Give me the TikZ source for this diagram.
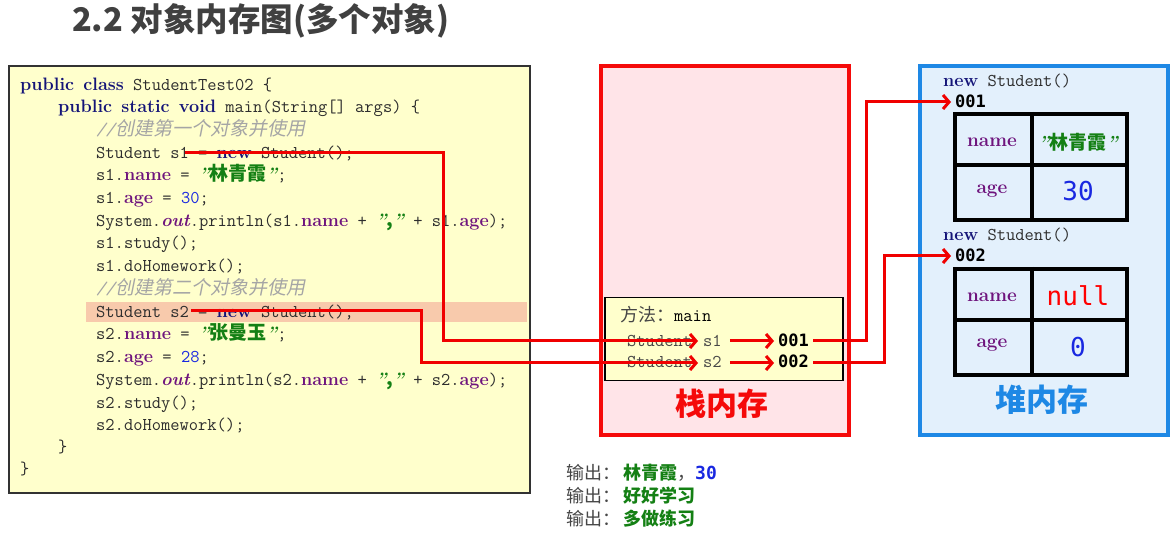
\documentclass[tikz,border=0pt]{standalone}
\usepackage{fontspec}
\usetikzlibrary{arrows.meta}
\newfontfamily\cjk{Noto Sans CJK SC}
\newfontfamily\cjkit[FakeSlant=0.2]{Noto Sans CJK SC}
\newfontfamily\dmono{DejaVu Sans Mono}
\definecolor{codebg}{RGB}{255,255,204}
\definecolor{boxgray}{RGB}{50,50,50}
\definecolor{hl}{RGB}{248,202,172}
\definecolor{kwc}{RGB}{20,20,120}
\definecolor{fdc}{RGB}{110,20,125}
\definecolor{strc}{RGB}{20,128,20}
\definecolor{numc}{RGB}{25,40,225}
\definecolor{cmtc}{RGB}{165,165,165}
\definecolor{codetxt}{RGB}{45,45,45}
\definecolor{arrowred}{RGB}{240,0,0}
\definecolor{stackbg}{RGB}{255,228,232}
\definecolor{stackred}{RGB}{245,10,10}
\definecolor{heapbg}{RGB}{227,240,252}
\definecolor{heapblue}{RGB}{30,136,229}
\definecolor{titlegray}{RGB}{64,64,64}
\definecolor{outgray}{RGB}{70,70,70}
\newcommand\kw[1]{{\color{kwc}\rmfamily\bfseries #1}}
\newcommand\fd[1]{{\color{fdc}\rmfamily\bfseries #1}}
\newcommand\outk[1]{{\color{fdc}\rmfamily\bfseries\itshape #1}}
\newcommand\jnum[1]{{\color{numc}#1}}
\newcommand\qm{{\rmfamily\bfseries\itshape"}}
\newcommand\jstr[1]{{\color{strc}\qm{\cjk\bfseries\fontsize{19}{20}\selectfont #1}\qm}}
\newcommand\cmt[1]{{\color{cmtc}{\itshape //}{\cjkit\fontsize{19}{20}\selectfont #1}}}
\tikzset{
  codetext/.style={anchor=base west, inner sep=0pt, text=codetxt, font=\fontsize{18}{20}\selectfont\ttfamily},
  redarrow/.style={draw=arrowred, line width=3pt, -{Straight Barb[length=6pt,width=14pt]}},
  celltext/.style={anchor=center, inner sep=0pt},
  tbl/.style={draw=black, line width=4pt},
  outtext/.style={anchor=base west, inner sep=0pt, text=outgray, font=\cjk\fontsize{18}{20}\selectfont},
}
\begin{document}
\begin{tikzpicture}[x=1pt,y=-1pt]
\useasboundingbox (0,0) rectangle (1171,534);
\fill[white] (0,0) rectangle (1171,534);
% title
\node[anchor=west, inner sep=0pt, text=titlegray, font=\cjk\bfseries\fontsize{32.5}{34}\selectfont] (title) at (72,21) {2.2 对象内存图(多个对象)};
% code box
\node[draw=boxgray, line width=2pt, fill=codebg, minimum width=521pt, minimum height=427pt, anchor=north west, inner sep=0pt] (code) at (8,65) {};
\fill[hl] (86,302) rectangle (527,322);
\node[codetext] (l1) at (20,91) {\kw{public} \kw{class} StudentTest02 \{};
\node[codetext] (l2) at (58,113) {\kw{public} \kw{static} \kw{void} main(String[] args) \{};
\node[codetext] (l3) at (96,136) {\cmt{创建第一个对象并使用}};
\node[codetext] (l4) at (96,159) {Student s1 = \kw{new} Student();};
\node[codetext] (l5) at (96,181) {s1.\fd{name} = \jstr{林青霞};};
\node[codetext] (l6) at (96,204) {s1.\fd{age} = \jnum{30};};
\node[codetext] (l7) at (96,227) {System.\outk{out}.println(s1.\fd{name} + \jstr{,} + s1.\fd{age});};
\node[codetext] (l8) at (96,249) {s1.study();};
\node[codetext] (l9) at (96,272) {s1.doHomework();};
\node[codetext] (l10) at (96,295) {\cmt{创建第二个对象并使用}};
\node[codetext] (l11) at (96,318) {Student s2 = \kw{new} Student();};
\node[codetext] (l12) at (96,340) {s2.\fd{name} = \jstr{张曼玉};};
\node[codetext] (l13) at (96,363) {s2.\fd{age} = \jnum{28};};
\node[codetext] (l14) at (96,386) {System.\outk{out}.println(s2.\fd{name} + \jstr{,} + s2.\fd{age});};
\node[codetext] (l15) at (96,409) {s2.study();};
\node[codetext] (l16) at (96,431) {s2.doHomework();};
\node[codetext] (l17) at (58,453) {\}};
\node[codetext] (l18) at (20,475) {\}};
% stack
\node[draw=stackred, line width=4pt, fill=stackbg, minimum width=248pt, minimum height=369pt, anchor=north west, inner sep=0pt] (stack) at (599,64) {};
\node[draw=black, line width=1.5pt, fill=codebg, minimum width=238pt, minimum height=83pt, anchor=north west, inner sep=0pt] (frame) at (604,297) {};
\node[codetext, text=black] (method) at (620,322) {{\cjk\color{outgray}\fontsize{18}{20}\selectfont 方法：}main};
\node[codetext, text=outgray] (st1) at (627,347) {Student};
\node[codetext, text=outgray] (vs1) at (703,347) {s1};
\node[codetext, text=outgray] (st2) at (627,368) {Student};
\node[codetext, text=outgray] (vs2) at (703,368) {s2};
\node[anchor=base west, inner sep=0pt, font=\dmono\bfseries\fontsize{17}{20}\selectfont] (p1) at (778,347) {001};
\node[anchor=base west, inner sep=0pt, font=\dmono\bfseries\fontsize{17}{20}\selectfont] (p2) at (778,368) {002};
\node[anchor=center, inner sep=0pt, text=stackred, font=\cjk\bfseries\fontsize{31}{34}\selectfont] (stacklbl) at (722,404) {栈内存};
% heap
\node[draw=heapblue, line width=4pt, fill=heapbg, minimum width=248pt, minimum height=369pt, anchor=north west, inner sep=0pt] (heap) at (918,64) {};
\node[anchor=base west, inner sep=0pt, text=codetxt, font=\fontsize{18}{20}\selectfont\ttfamily] (new1) at (943,87) {\kw{new} Student()};
\node[anchor=base west, inner sep=0pt, font=\dmono\bfseries\fontsize{17}{20}\selectfont] (h1) at (955,108) {001};
\node[tbl, minimum width=172pt, minimum height=106pt, anchor=north west, inner sep=0pt] (tbl1) at (953,112) {};
\draw[tbl] (1032,112) -- (1032,218) (953,165) -- (1125,165);
\node[celltext, text=fdc, font=\rmfamily\bfseries\fontsize{19}{20}\selectfont] (n1) at (992,142) {name};
\node[celltext, text=strc, font=\fontsize{19}{20}\selectfont] (v1) at (1078,142) {\qm{\cjk\bfseries 林青霞}\qm};
\node[celltext, text=fdc, font=\rmfamily\bfseries\fontsize{19}{20}\selectfont] (a1) at (992,191) {age};
\node[celltext, text=numc, font=\dmono\fontsize{26}{28}\selectfont] (g1) at (1078,191) {30};
\node[anchor=base west, inner sep=0pt, text=codetxt, font=\fontsize{18}{20}\selectfont\ttfamily] (new2) at (943,241) {\kw{new} Student()};
\node[anchor=base west, inner sep=0pt, font=\dmono\bfseries\fontsize{17}{20}\selectfont] (h2) at (955,262) {002};
\node[tbl, minimum width=172pt, minimum height=106pt, anchor=north west, inner sep=0pt] (tbl2) at (953,267) {};
\draw[tbl] (1032,267) -- (1032,373) (953,320) -- (1125,320);
\node[celltext, text=fdc, font=\rmfamily\bfseries\fontsize{19}{20}\selectfont] (n2) at (992,297) {name};
\node[celltext, text=red, font=\dmono\fontsize{26}{28}\selectfont] (v2) at (1078,296) {null};
\node[celltext, text=fdc, font=\rmfamily\bfseries\fontsize{19}{20}\selectfont] (a2) at (992,345) {age};
\node[celltext, text=numc, font=\dmono\fontsize{26}{28}\selectfont] (g2) at (1078,347) {0};
\node[anchor=center, inner sep=0pt, text=heapblue, font=\cjk\bfseries\fontsize{31}{34}\selectfont] (heaplbl) at (1042,400) {堆内存};
% output
\node[outtext] (o1) at (566,480) {输出：\,{\color{strc}\bfseries 林青霞}，{\dmono\bfseries\color{numc}30}};
\node[outtext] (o2) at (566,503) {输出：\,{\color{strc}\bfseries 好好学习}};
\node[outtext] (o3) at (566,526) {输出：\,{\color{strc}\bfseries 多做练习}};
% connectors
\coordinate (s1src) at (185,153);
\coordinate (s1tip) at (698,341);
\coordinate (s2src) at (191,311);
\coordinate (s2tip) at (698,363);
\draw[redarrow] (s1src) -- (443,153) -- (443,341) -- (s1tip);
\draw[redarrow] (s2src) -- (421,311) -- (421,363) -- (s2tip);
\draw[redarrow] ([xshift=8pt]vs1.east |- s1tip) -- ([xshift=-4pt]p1.west |- s1tip);
\draw[redarrow] ([xshift=8pt]vs2.east |- s2tip) -- ([xshift=-4pt]p2.west |- s2tip);
\draw[redarrow] ([xshift=4pt]p1.east |- s1tip) -- (866,341) -- (866,102) -- ([xshift=-4pt]h1.west |- 0,102);
\draw[redarrow] ([xshift=4pt]p2.east |- s2tip) -- (884,363) -- (884,256) -- ([xshift=-4pt]h2.west |- 0,256);
\end{tikzpicture}
\end{document}
